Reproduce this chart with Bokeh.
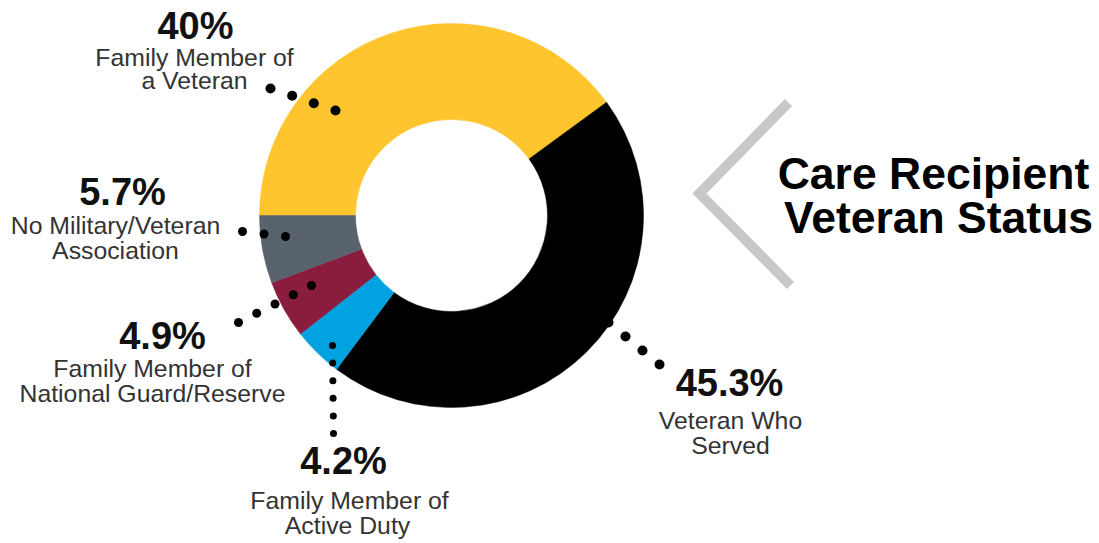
import numpy as np
from bokeh.plotting import figure
from bokeh.models import Range1d, ColumnDataSource
from bokeh.core.properties import value
from bokeh.embed import file_html
from bokeh.resources import INLINE

# ---- data ----
categories = ["Family Member of\na Veteran", "Veteran Who\nServed",
              "Family Member of\nActive Duty", "Family Member of\nNational Guard/Reserve",
              "No Military/Veteran\nAssociation"]
percent_labels = ["40%", "45.3%", "4.2%", "4.9%", "5.7%"]
values = [40.0, 45.3, 4.2, 4.9, 5.7]
colors = ["#FEC52E", "#000000", "#00A3E0", "#8A1C3E", "#59636E"]
title_lines = ["Care Recipient", "Veteran Status"]

# ---- layout (picture pixel coordinates) ----
W, H = 1099, 543
FONT = "Liberation Sans"
cx, cy = 451, 215
r_out, r_in = 192, 96
start_deg = 180.0
SHIFT = 0.34  # compensation of the renderer's baseline offset (fraction of font size)

pct_pos = [(195, 38), (729, 395), (343, 473), (162, 348), (122, 204)]
lbl_pos = [[(194, 65), (194, 88)],
           [(730, 428), (730, 453)],
           [(349, 508), (347, 533)],
           [(152, 376), (152, 401)],
           [(115, 233), (115, 258)]]
# leader dot chains: start, end, count, size
chains = [((270, 88), (335, 110), 4, 10),
          ((608, 322), (659, 364), 4, 10),
          ((332, 345), (333, 433), 6, 7),
          ((238, 322), (311, 285), 5, 9),
          ((242, 231), (285, 236), 3, 9)]

p = figure(width=W, height=H, output_backend="svg", toolbar_location=None,
           x_range=Range1d(0, W), y_range=Range1d(H, 0),
           min_border=0, outline_line_color=None)
p.axis.visible = False
p.grid.visible = False
p.background_fill_color = "white"
p.border_fill_color = "white"

vals = np.array(values)
frac = vals / vals.sum()
cum = np.concatenate([[0], np.cumsum(frac)])
starts = np.deg2rad(start_deg - 360 * cum[:-1])
ends = np.deg2rad(start_deg - 360 * cum[1:])

src = ColumnDataSource(dict(x=[cx] * len(values), y=[cy] * len(values),
                            start=starts, end=ends, color=colors))
p.annular_wedge(x="x", y="y", inner_radius=r_in, outer_radius=r_out,
                start_angle="start", end_angle="end", direction="clock",
                fill_color="color", line_color="color", line_width=0.5, source=src)

# chevron decoration
p.line(x=[788, 699, 790], y=[102, 193, 285], line_color="#C8C8C8", line_width=10,
       line_join="miter", line_cap="butt")

# leader dots
for (x0, y0), (x1, y1), n, s in chains:
    xs = np.linspace(x0, x1, n)
    ys = np.linspace(y0, y1, n)
    p.scatter(xs, ys, size=s, fill_color="black", line_color=None)

def base(y, fs):
    return y - SHIFT * fs

# percent labels
fs_pct = 38
p.text(x=[q[0] for q in pct_pos], y=[base(q[1], fs_pct) for q in pct_pos], text=percent_labels,
       text_font=value(FONT), text_font_style="bold", text_font_size=f"{fs_pct}px",
       text_color="#111111", text_align="center", text_baseline="alphabetic")

# category labels
fs_lbl = 24.8
lx, ly, lt = [], [], []
for cat, pos in zip(categories, lbl_pos):
    for line, (x, y) in zip(cat.split("\n"), pos):
        lx.append(x); ly.append(base(y, fs_lbl)); lt.append(line)
p.text(x=lx, y=ly, text=lt, text_font=value(FONT), text_font_size=f"{fs_lbl}px",
       text_color="#333333", text_align="center", text_baseline="alphabetic")

# title
fs_t = 44.5
p.text(x=[933, 938], y=[base(188, fs_t), base(232, fs_t)], text=title_lines, text_font=value(FONT),
       text_font_style="bold", text_font_size=f"{fs_t}px", text_color="#000000",
       text_align="center", text_baseline="alphabetic")

open("out.html", "w").write(file_html(p, INLINE))
